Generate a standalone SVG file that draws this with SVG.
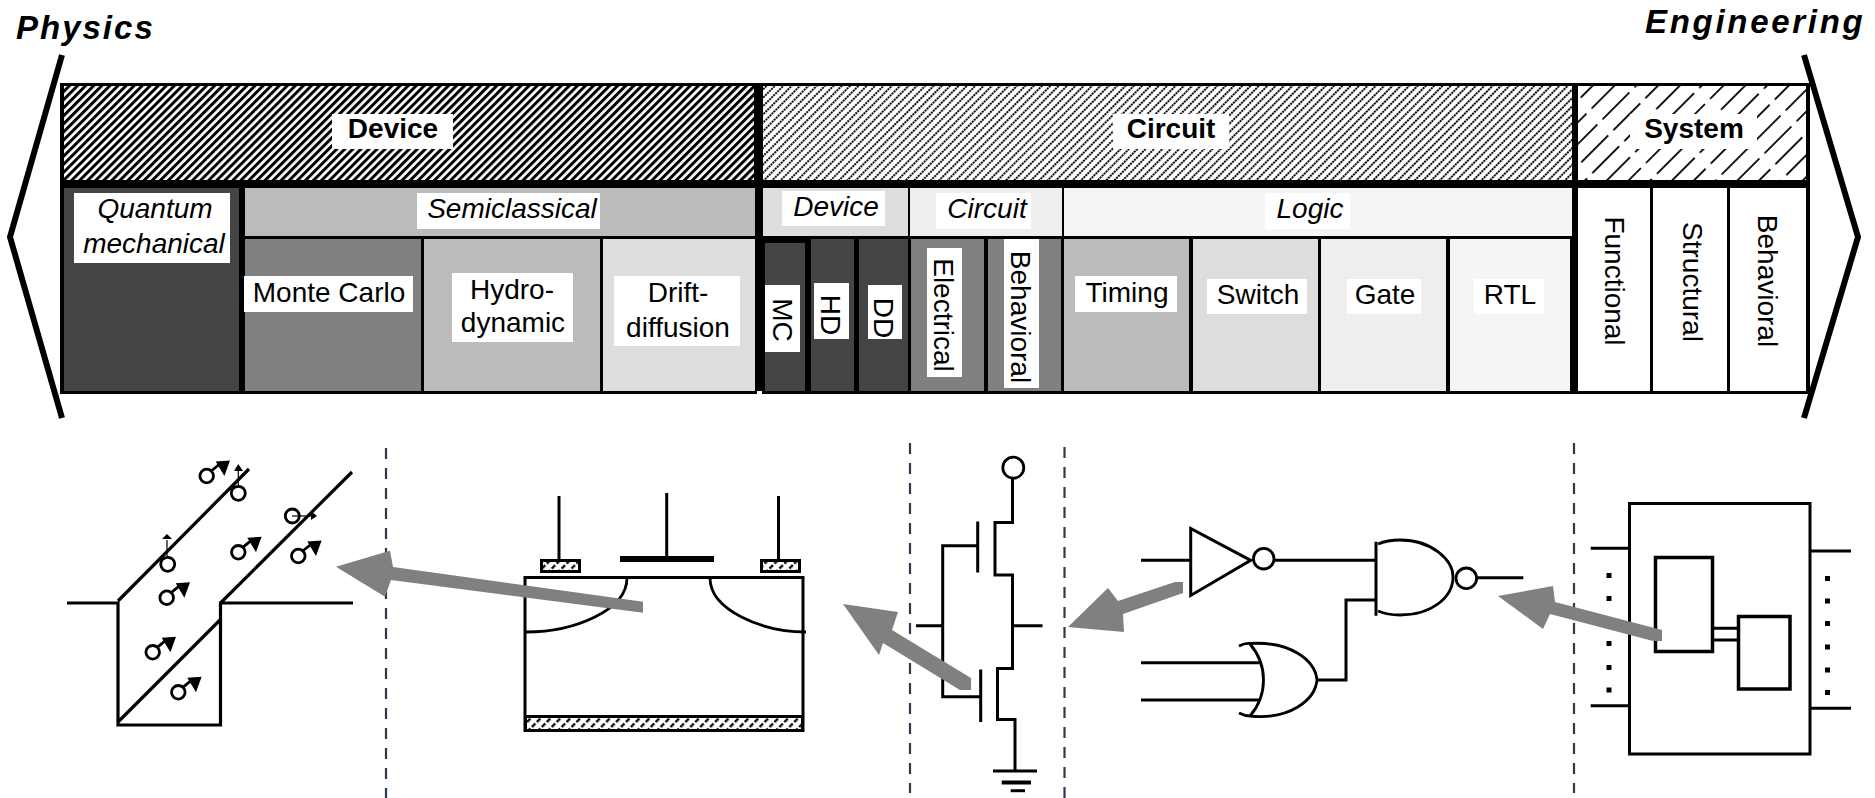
<svg xmlns="http://www.w3.org/2000/svg" width="1875" height="798" viewBox="0 0 1875 798">
<style>
text{font-family:"Liberation Sans",Arial,sans-serif;font-size:28px;fill:#000;text-anchor:middle}
.b{font-weight:bold}.i{font-style:italic}
.hd{font-weight:bold;font-style:italic;font-size:33px;text-anchor:start}
.lb{fill:#fff}
.k{fill:#000}
.w{fill:none;stroke:#000;stroke-width:3}
.t{fill:none;stroke:#000;stroke-width:2.800}
.dash{fill:none;stroke:#2b3a4a;stroke-width:2.200;stroke-dasharray:11 9}
.ga{fill:#808080}
.dot{fill:#000}
</style>
<defs>
<pattern id="hDev" width="5.7" height="5.7" patternUnits="userSpaceOnUse" patternTransform="rotate(45)"><rect width="5.7" height="5.7" fill="#fff"/><rect width="3" height="5.7" fill="#000"/></pattern>
<pattern id="hCir" width="5.9" height="2.83" patternUnits="userSpaceOnUse" patternTransform="rotate(45)"><rect width="5.9" height="2.83" fill="#fff"/><rect width="2" height="2.1" fill="#111"/></pattern>
<pattern id="hSys" width="15.4" height="45.28" patternUnits="userSpaceOnUse" patternTransform="rotate(45)"><rect width="15.4" height="45.28" fill="#fff"/><rect width="1.900" height="38" fill="#111"/></pattern>
<pattern id="hCon" width="7" height="7" patternUnits="userSpaceOnUse" patternTransform="rotate(45)"><rect width="7" height="7" fill="#fff"/><rect width="2.400" height="5" fill="#111"/></pattern>
<g id="electron"><circle cx="0" cy="0" r="6.8" fill="none" stroke="#000" stroke-width="2.800"/><path d="M4.5 -5L13 -12" stroke="#000" stroke-width="2.800"/><path d="M9 -14.5L23.3 -15.5L17.7 0Z" fill="#000"/></g>
</defs>

<g id="title-physics"><text class="hd" x="16" y="39" letter-spacing="2">Physics</text></g>
<g id="title-engineering"><text class="hd" x="1645" y="33" letter-spacing="2.700">Engineering</text></g>

<g id="frame"><rect x="60" y="83" width="1750" height="311" fill="#000"/><rect x="757" y="391" width="5" height="3" fill="#fff"/></g>

<g id="band-device"><rect x="64" y="86" width="690" height="94" fill="url(#hDev)"/><rect class="lb" x="332" y="114" width="121" height="35"/><text class="b" x="393" y="138">Device</text></g>
<g id="band-circuit"><rect x="763" y="86" width="809" height="94" fill="url(#hCir)"/><rect class="lb" x="1113" y="114" width="116" height="35"/><text class="b" x="1171" y="138">Circuit</text></g>
<g id="band-system"><rect x="1578" y="86" width="228" height="94" fill="url(#hSys)"/><rect class="lb" x="1630" y="114" width="127" height="35"/><text class="b" x="1694" y="138">System</text></g>

<g id="quantum"><rect x="64" y="188" width="175" height="203" fill="#444"/><rect class="lb" x="74" y="193" width="156" height="70"/><text class="i" x="155" y="218">Quantum</text><text class="i" x="154" y="253">mechanical</text></g>
<g id="semiclassical"><rect x="245" y="188" width="510" height="48" fill="#bbb"/><rect class="lb" x="417" y="193" width="183" height="36"/><text class="i" x="512" y="218">Semiclassical</text></g>
<g id="monte-carlo"><rect x="245" y="239" width="176" height="152" fill="#808080"/><rect class="lb" x="244" y="276" width="169" height="36"/><text x="329" y="302">Monte Carlo</text></g>
<g id="hydrodynamic"><rect x="424" y="239" width="176" height="152" fill="#bbb"/><rect class="lb" x="452" y="273" width="121" height="69"/><text x="512" y="299">Hydro-</text><text x="513" y="332">dynamic</text></g>
<g id="drift-diffusion"><rect x="603" y="239" width="152" height="152" fill="#ddd"/><rect class="lb" x="614" y="276" width="126" height="70"/><text x="678" y="302">Drift-</text><text x="678" y="337">diffusion</text></g>

<g id="c-device"><rect x="763" y="188" width="145" height="48" fill="#ddd"/><rect class="lb" x="782" y="191" width="103" height="35"/><text class="i" x="836" y="216">Device</text></g>
<g id="c-circuit"><rect x="910" y="188" width="152" height="48" fill="#eee"/><rect class="lb" x="936" y="193" width="95" height="36"/><text class="i" x="987" y="218">Circuit</text></g>
<g id="c-logic"><rect x="1064" y="188" width="508" height="48" fill="#f5f5f5"/><rect class="lb" x="1265" y="193" width="85" height="36"/><text class="i" x="1310" y="218">Logic</text></g>

<g id="mc"><rect x="765" y="243" width="40" height="148" fill="#444"/><rect class="lb" x="765" y="285" width="35" height="67"/><text transform="translate(773 320) rotate(90)">MC</text></g>
<g id="hd"><rect x="811" y="239" width="43" height="152" fill="#444"/><rect class="lb" x="814" y="283" width="35" height="56"/><text transform="translate(821 315) rotate(90)">HD</text></g>
<g id="dd"><rect x="859" y="239" width="49" height="152" fill="#444"/><rect class="lb" x="868" y="285" width="34" height="54"/><text transform="translate(874 318) rotate(90)">DD</text></g>
<g id="electrical"><rect x="911" y="239" width="73" height="152" fill="#808080"/><rect class="lb" x="927" y="248" width="35" height="129"/><text transform="translate(934 315) rotate(90)">Electrical</text></g>
<g id="behavioral-c"><rect x="988" y="239" width="73" height="152" fill="#808080"/><rect class="lb" x="1004" y="239" width="35" height="149"/><text transform="translate(1011 317) rotate(90)">Behavioral</text></g>
<g id="timing"><rect x="1064" y="239" width="125" height="152" fill="#bbb"/><rect class="lb" x="1075" y="276" width="102" height="36"/><text x="1127" y="302">Timing</text></g>
<g id="switch"><rect x="1193" y="239" width="125" height="152" fill="#ddd"/><rect class="lb" x="1207" y="279" width="100" height="35"/><text x="1258" y="304">Switch</text></g>
<g id="gate"><rect x="1321" y="239" width="125" height="152" fill="#eee"/><rect class="lb" x="1347" y="279" width="74" height="35"/><text x="1385" y="304">Gate</text></g>
<g id="rtl"><rect x="1450" y="239" width="120" height="152" fill="#f5f5f5"/><rect class="lb" x="1474" y="279" width="70" height="35"/><text x="1510" y="304">RTL</text></g>

<g id="functional"><rect class="lb" x="1578" y="188" width="72" height="203"/><text transform="translate(1605 281) rotate(90)">Functional</text></g>
<g id="structural"><rect class="lb" x="1653" y="188" width="74" height="203"/><text transform="translate(1683 282) rotate(90)">Structural</text></g>
<g id="behavioral-s"><rect class="lb" x="1730" y="188" width="76" height="203"/><text transform="translate(1758 281) rotate(90)">Behavioral</text></g>

<g id="brackets"><path d="M62 55L10 237L62 418" fill="none" stroke="#000" stroke-width="6"/><path d="M1804 55L1858 237L1804 418" fill="none" stroke="#000" stroke-width="6"/></g>

<g id="separators"><path class="dash" d="M386 448V798"/><path class="dash" d="M910 443V793"/><path class="dash" d="M1064.500 447V798"/><path class="dash" d="M1574 443V793"/></g>

<g id="scene-quantum">
<path d="M67 603H118V725H220.500V603H353M118 601L249 469M220.500 603L352 472M118 722L220 620" fill="none" stroke="#000" stroke-width="3.200"/>
<use href="#electron" x="206.700" y="476"/><use href="#electron" x="238.300" y="552.300"/><use href="#electron" x="298.300" y="556"/><use href="#electron" x="166.700" y="597.700"/><use href="#electron" x="152.700" y="652.300"/><use href="#electron" x="178.300" y="692.300"/>
<circle class="t" cx="238.300" cy="493.300" r="7"/><path d="M238.300 486V469" stroke="#000" stroke-width="1.200"/><path d="M234 471L238.300 464L243 471Z" class="k"/>
<circle class="t" cx="167.700" cy="564.300" r="7"/><path d="M167 557V540" stroke="#000" stroke-width="1.200"/><path d="M162 539L167 534L172 539Z" class="k"/>
<circle class="t" cx="292.300" cy="516" r="7"/><path d="M292 516H312" stroke="#000" stroke-width="1.200"/><path d="M311 511L317 516L311 520Z" class="k"/>
</g>

<g id="scene-mosfet">
<rect x="525" y="577.500" width="278" height="153" fill="none" stroke="#000" stroke-width="3"/>
<rect x="525.500" y="716.500" width="277" height="14" fill="url(#hCon)" stroke="#000" stroke-width="3"/>
<rect x="541.500" y="560.500" width="38" height="11" fill="url(#hCon)" stroke="#000" stroke-width="3"/>
<rect x="761.500" y="560.500" width="38" height="11" fill="url(#hCon)" stroke="#000" stroke-width="3"/>
<path class="w" d="M559 496V560M778.500 496V560M666.700 493V556"/>
<rect class="k" x="620" y="556" width="94" height="6"/>
<path class="t" d="M627 578C627 610 575 632 526 632M710 578C710 610 762 632 806 632"/>
</g>

<g id="scene-cmos">
<circle class="t" cx="1013.300" cy="467.700" r="10.500"/>
<path class="w" d="M1012.500 478V522.500H995V575H1012.500V668.500H997.500V719.500H1015V771M977.700 521.500V572.500M977.700 545.700H942.700V696.700H980M980.700 669.500V722M916 625.700H942.700M1012.500 625.700H1042.500M993 771H1037"/>
<path d="M1001.700 782.500H1031" stroke="#000" stroke-width="4"/><path d="M1010.700 790.700H1025" stroke="#000" stroke-width="3"/>
</g>

<g id="scene-logic">
<path class="w" d="M1190.700 528.500V595.500L1250.700 560.300Z"/>
<circle class="t" cx="1263.700" cy="558.700" r="10.300"/>
<path class="w" d="M1141 560.300H1190.700M1275 560.300H1376M1376 541.700V615.700M1477.300 577.700H1523.300M1317 680H1346V600H1376M1141 662.700H1260M1141 700H1260"/>
<path class="t" d="M1378 544C1385 541 1392 540 1400 540C1432 540 1453 560 1453 577C1453 597 1432 615 1400 615C1392 615 1385 614 1378 611"/>
<circle class="t" cx="1466.300" cy="578.300" r="10.300"/>
<path class="t" d="M1239 646Q1245 643 1250 643.500C1290 641 1315 660 1317 680C1315 700 1290 720 1250 716Q1245 716 1239 713M1250 644C1268 665 1268 695 1250 716"/>
</g>

<g id="scene-system">
<rect class="w" x="1629.500" y="503.500" width="180.500" height="250.500"/>
<rect class="w" x="1655.500" y="557.500" width="57" height="94" style="stroke-width:3.500"/>
<rect class="w" x="1738.500" y="616.500" width="51.500" height="72.500" style="stroke-width:3.500"/>
<path class="w" d="M1712.500 628.300H1738M1712.500 640H1738M1590.700 548.300H1629M1590.700 705.700H1629M1810 551H1851M1810 708.300H1851"/>
<g class="dot"><rect x="1606.500" y="573" width="5" height="5"/><rect x="1606.500" y="596" width="5" height="5"/><rect x="1606.500" y="641" width="5" height="5"/><rect x="1606.500" y="665" width="5" height="5"/><rect x="1606.500" y="687.500" width="5" height="5"/><rect x="1825" y="576" width="5" height="5"/><rect x="1825" y="598.500" width="5" height="5"/><rect x="1825" y="621" width="5" height="5"/><rect x="1825" y="644.500" width="5" height="5"/><rect x="1825" y="667.500" width="5" height="5"/><rect x="1825" y="690" width="5" height="5"/></g>
</g>

<g id="connectors">
<polygon class="ga" points="336,566.700 390,550.700 393,567 643,601.700 643,612.700 391,580 385,596.700"/>
<polygon class="ga" points="843,604 898,612 892,630 971,678 971,690 960,690 883,643 879,655"/>
<polygon class="ga" points="1068,627 1108,588 1118,601 1175,582 1183,582 1183,593 1123,614 1124,632"/>
<polygon class="ga" points="1498,596 1553,586 1555,602 1662,630 1662,641 1653,641 1550,614 1543,629"/>
</g>
</svg>
